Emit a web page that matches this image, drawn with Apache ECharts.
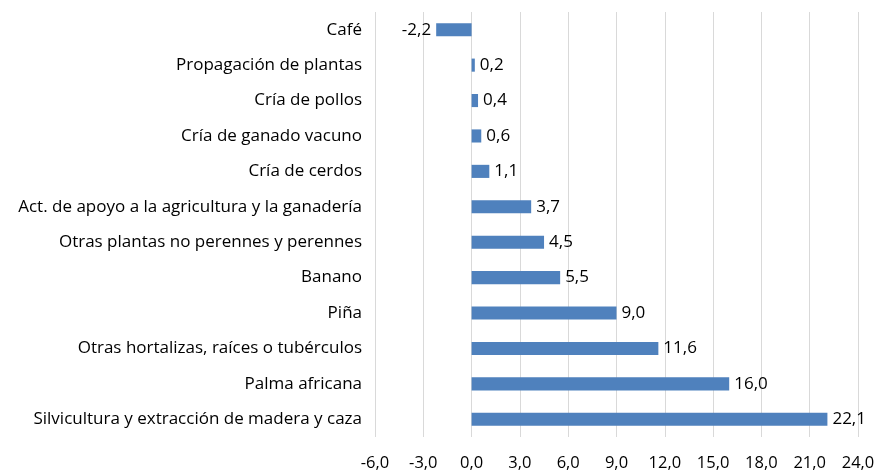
<!DOCTYPE html>
<html>
<head>
<meta charset="utf-8">
<script src="https://cdn.jsdelivr.net/npm/echarts@6/dist/echarts.min.js"></script>
<style>
  html, body { margin: 0; padding: 0; background: #fff; }
  #main { width: 880px; height: 473px; }
</style>
</head>
<body>
<div id="main"></div>
<script>
// categorías (de arriba hacia abajo)
var categories = [
  'Café',
  'Propagación de plantas',
  'Cría de pollos',
  'Cría de ganado vacuno',
  'Cría de cerdos',
  'Act. de apoyo a la agricultura y la ganadería',
  'Otras plantas no perennes y perennes',
  'Banano',
  'Piña',
  'Otras hortalizas, raíces o tubérculos',
  'Palma africana',
  'Silvicultura y extracción de madera y caza'
];
var values = [-2.2, 0.2, 0.4, 0.6, 1.1, 3.7, 4.5, 5.5, 9.0, 11.6, 16.0, 22.1];

// formato con coma decimal
function fmt(v) {
  return Number(v).toFixed(1).replace('.', ',');
}

var myChart = echarts.init(document.getElementById('main'));

var option = {
  animation: false,
  textStyle: { fontFamily: 'Open Sans' },
  grid: { left: 375, right: 22, top: 12, bottom: 36 },
  xAxis: {
    type: 'value',
    min: -6,
    max: 24,
    interval: 3,
    axisLine: { show: false },
    axisTick: { show: false },
    axisLabel: {
      formatter: fmt,
      color: '#000',
      fontSize: 16.5,
      margin: 18
    },
    splitLine: { lineStyle: { color: '#d9d9d9', width: 1 } }
  },
  yAxis: {
    type: 'category',
    inverse: true,
    data: categories,
    axisLine: { show: false, onZero: false },
    axisTick: { show: false },
    axisLabel: { color: '#000', fontSize: 17, margin: 13 }
  },
  series: [
    {
      type: 'bar',
      data: values.map(function (v) {
        return {
          value: v,
          label: { position: v < 0 ? 'left' : 'right' }
        };
      }),
      barWidth: '37%',
      itemStyle: { color: '#4f81bd' },
      label: {
        show: true,
        color: '#000',
        fontSize: 17,
        distance: 5,
        formatter: function (p) { return fmt(p.value); }
      }
    }
  ]
};

myChart.setOption(option);
</script>
</body>
</html>
